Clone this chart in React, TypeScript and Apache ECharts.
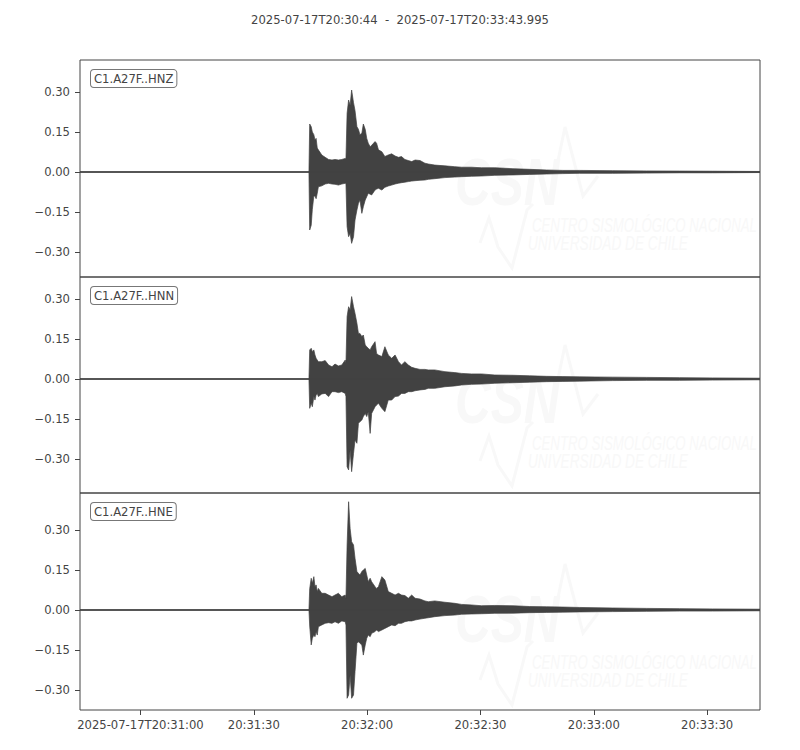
import React, { useEffect, useRef } from "react";
import * as echarts from "echarts";

// time in seconds after 2025-07-17T20:30:00
const T_START = 44;
const T_END = 223.995;
const TITLE = "2025-07-17T20:30:44  -  2025-07-17T20:33:43.995";
const CHANNELS = ["C1.A27F..HNZ", "C1.A27F..HNN", "C1.A27F..HNE"];
const X_TICKS = [60, 90, 120, 150, 180, 210];
const Y_TICKS = [-0.3, -0.15, 0, 0.15, 0.3];
const Y_RANGES = [
  [-0.3937, 0.42],
  [-0.4275, 0.3825],
  [-0.375, 0.4387],
];

const TIMES = [
  44, 104.6, 104.8, 105.2, 105.5, 105.9, 106.2, 106.5, 106.8, 107.1, 108.0, 108.9, 109.8, 110.7, 111.5,
  112.4, 113.3, 114.2, 114.4, 114.7, 115.1, 115.5, 115.9, 116.4, 116.8, 117.3, 117.7, 118.1, 118.6, 119.0,
  119.5, 119.9, 120.3, 120.8, 121.2, 122.1, 122.5, 123.0, 123.9, 124.7, 125.6, 126.5, 127.4, 128.3, 129.1,
  130.0, 130.9, 131.8, 132.7, 134.0, 135.3, 136.2, 137.9, 140.6, 143.2, 145.0, 147.6, 150.3, 153.8, 158.6,
  163.0, 167.5, 171.8, 176.3, 185.0, 194.0, 202.7, 211.4, 223.995,
];

const HNZ_UPPER = [
  0, 0, 0.18, 0.17, 0.15, 0.14, 0.12, 0.126, 0.09, 0.083, 0.064, 0.055, 0.047, 0.045, 0.047,
  0.045, 0.047, 0.051, 0.05, 0.22, 0.27, 0.25, 0.3075, 0.26, 0.23, 0.17, 0.16, 0.14, 0.145, 0.18,
  0.16, 0.126, 0.108, 0.095, 0.1, 0.114, 0.108, 0.083, 0.076, 0.058, 0.064, 0.068, 0.06, 0.055, 0.058,
  0.047, 0.043, 0.039, 0.045, 0.043, 0.033, 0.03, 0.026, 0.023, 0.02, 0.018, 0.018, 0.016, 0.016, 0.0125,
  0.01, 0.0075, 0.006, 0.006, 0.005, 0.004, 0.0035, 0.003, 0.002,
];
const HNZ_LOWER = [
  0, 0, -0.2175, -0.2, -0.14, -0.09, -0.09, -0.1, -0.08, -0.055, -0.052, -0.045, -0.0425, -0.045, -0.046,
  -0.049, -0.045, -0.0425, -0.045, -0.205, -0.2425, -0.23, -0.2675, -0.2425, -0.18, -0.1425, -0.1175, -0.105, -0.155, -0.13,
  -0.105, -0.0925, -0.08, -0.083, -0.086, -0.0675, -0.064, -0.061, -0.0675, -0.0575, -0.0525, -0.049, -0.045, -0.042, -0.04,
  -0.038, -0.036, -0.034, -0.0325, -0.031, -0.03, -0.0275, -0.025, -0.021, -0.019, -0.0175, -0.016, -0.015, -0.0125, -0.011,
  -0.009, -0.0075, -0.006, -0.005, -0.005, -0.004, -0.003, -0.003, -0.002,
];
const HNN_UPPER = [
  0, 0, 0.109, 0.115, 0.1025, 0.109, 0.09, 0.0775, 0.071, 0.065, 0.065, 0.069, 0.0525, 0.046, 0.056,
  0.049, 0.0525, 0.071, 0.06, 0.234, 0.271, 0.259, 0.309, 0.271, 0.246, 0.209, 0.171, 0.171, 0.159, 0.165,
  0.1275, 0.121, 0.115, 0.109, 0.121, 0.14, 0.096, 0.09, 0.084, 0.121, 0.09, 0.0775, 0.09, 0.065, 0.0525,
  0.065, 0.0525, 0.044, 0.04, 0.036, 0.036, 0.034, 0.034, 0.0275, 0.024, 0.021, 0.019, 0.019, 0.015, 0.014,
  0.012, 0.01, 0.009, 0.008, 0.007, 0.006, 0.005, 0.004, 0.003,
];
const HNN_LOWER = [
  0, 0, -0.11, -0.091, -0.104, -0.066, -0.079, -0.06, -0.054, -0.066, -0.056, -0.054, -0.066, -0.0475, -0.0475,
  -0.051, -0.0475, -0.054, -0.066, -0.329, -0.341, -0.266, -0.3475, -0.279, -0.229, -0.241, -0.166, -0.16, -0.154, -0.141,
  -0.129, -0.141, -0.1225, -0.204, -0.129, -0.104, -0.0975, -0.091, -0.11, -0.1225, -0.079, -0.079, -0.066, -0.064, -0.054,
  -0.054, -0.0475, -0.0475, -0.044, -0.041, -0.039, -0.035, -0.035, -0.029, -0.026, -0.0225, -0.02, -0.019, -0.016, -0.014,
  -0.012, -0.01, -0.009, -0.008, -0.006, -0.005, -0.005, -0.004, -0.003,
];
const HNE_UPPER = [
  0, 0, 0.08, 0.119, 0.1, 0.125, 0.0875, 0.094, 0.069, 0.081, 0.0625, 0.0625, 0.056, 0.05, 0.056,
  0.0625, 0.05, 0.056, 0.044, 0.244, 0.406, 0.306, 0.256, 0.244, 0.194, 0.144, 0.1375, 0.131, 0.144, 0.15,
  0.156, 0.131, 0.106, 0.119, 0.106, 0.0875, 0.081, 0.0875, 0.125, 0.1125, 0.069, 0.0625, 0.056, 0.0625, 0.056,
  0.054, 0.044, 0.056, 0.044, 0.041, 0.034, 0.031, 0.034, 0.029, 0.025, 0.021, 0.019, 0.016, 0.017, 0.016,
  0.013, 0.012, 0.011, 0.0095, 0.0075, 0.006, 0.005, 0.004, 0.003,
];
const HNE_LOWER = [
  0, 0, -0.06, -0.131, -0.106, -0.094, -0.1, -0.081, -0.094, -0.0625, -0.056, -0.05, -0.0475, -0.05, -0.044,
  -0.05, -0.041, -0.044, -0.056, -0.331, -0.319, -0.244, -0.331, -0.319, -0.231, -0.125, -0.119, -0.125, -0.131, -0.169,
  -0.131, -0.106, -0.094, -0.1, -0.0875, -0.081, -0.075, -0.081, -0.075, -0.069, -0.0625, -0.056, -0.059, -0.05, -0.05,
  -0.044, -0.041, -0.041, -0.0375, -0.034, -0.031, -0.029, -0.025, -0.021, -0.019, -0.016, -0.015, -0.014, -0.0125, -0.012,
  -0.01, -0.009, -0.008, -0.0072, -0.006, -0.005, -0.004, -0.004, -0.003,
];

const UPPERS = [HNZ_UPPER, HNN_UPPER, HNE_UPPER];
const LOWERS = [HNZ_LOWER, HNN_LOWER, HNE_LOWER];

const INK = "#444444";
const WAVE = "#424242";
const WM = "#f8f8f8";
const FONT = '"DejaVu Sans", sans-serif';
const FS = 11.6;

const pad2 = (n: number) => (n < 10 ? "0" + n : "" + n);
const fmtTime = (v: number) => {
  const s = Math.round(v);
  const str = `20:${pad2(30 + Math.floor(s / 60))}:${pad2(s % 60)}`;
  return v === X_TICKS[0] ? "2025-07-17T" + str : str;
};
const fmtY = (v: number) => (v < -1e-9 ? "\u2212" : "") + Math.abs(v).toFixed(2);

export default function App() {
  const ref = useRef<HTMLDivElement>(null);
  useEffect(() => {
    if (!ref.current) return;
    const chart = echarts.init(ref.current, null, { renderer: "svg" });
    const panelTops = [60, 277, 493];
    const panelHeights = [217, 216, 217];
    const wmOffsets = [0, 218, 437];

    const grids = panelTops.map((top, i) => ({
      left: 80,
      top,
      width: 680,
      height: panelHeights[i],
      show: true,
      borderColor: INK,
      borderWidth: 1,
      backgroundColor: "transparent",
      containLabel: false,
    }));

    const xAxes = [0, 1, 2].map((i) => ({
      type: "value",
      gridIndex: i,
      position: "bottom",
      min: T_START,
      max: T_END,
      axisLine: { show: false, onZero: false },
      splitLine: { show: false },
      axisTick: {
        show: i === 2,
        length: 5,
        lineStyle: { color: INK },
        customValues: X_TICKS,
      },
      axisLabel: {
        show: i === 2,
        customValues: X_TICKS,
        formatter: fmtTime,
        color: INK,
        fontSize: FS,
        fontFamily: FONT,
        margin: 9,
      },
    }));

    const yAxes = [0, 1, 2].map((i) => ({
      type: "value",
      gridIndex: i,
      position: "left",
      min: Y_RANGES[i][0],
      max: Y_RANGES[i][1],
      axisLine: { show: false, onZero: false },
      splitLine: { show: false },
      axisTick: {
        show: true,
        length: 5,
        lineStyle: { color: INK },
        customValues: Y_TICKS,
      },
      axisLabel: {
        customValues: Y_TICKS,
        formatter: fmtY,
        color: INK,
        fontSize: FS,
        fontFamily: FONT,
        margin: 10,
      },
    }));

    const series: any[] = [];
    [0, 1, 2].forEach((i) => {
      [UPPERS[i], LOWERS[i]].forEach((vals) => {
        series.push({
          type: "line",
          xAxisIndex: i,
          yAxisIndex: i,
          data: TIMES.map((t, k) => [t, vals[k]]),
          symbol: "none",
          silent: true,
          z: 3,
          lineStyle: { color: WAVE, width: 0.7 },
          areaStyle: { color: WAVE, opacity: 1, origin: "auto" },
        });
      });
      series.push({
        type: "line",
        xAxisIndex: i,
        yAxisIndex: i,
        data: [
          [T_START, 0],
          [T_END, 0],
        ],
        symbol: "none",
        silent: true,
        z: 4,
        lineStyle: { color: WAVE, width: 1.3 },
      });
    });

    const graphics: any[] = [];
    wmOffsets.forEach((oy) => {
      graphics.push(
        {
          type: "polyline",
          z: 0,
          silent: true,
          shape: { points: [[480, 243 + oy], [489, 218 + oy], [498, 247 + oy], [512, 268 + oy], [527, 210 + oy], [533, 204 + oy]] },
          style: { stroke: WM, lineWidth: 3, fill: null },
        },
        {
          type: "polyline",
          z: 0,
          silent: true,
          shape: { points: [[553, 185 + oy], [565, 127 + oy], [583, 196 + oy], [598, 176 + oy]] },
          style: { stroke: WM, lineWidth: 3, fill: null },
        },
        {
          type: "text",
          z: 0,
          silent: true,
          x: 455,
          y: 182 + oy,
          scaleX: 0.75,
          style: {
            text: "CSN",
            font: 'italic bold 66px "Liberation Sans"',
            fill: WM,
            verticalAlign: "middle",
          },
        },
        {
          type: "text",
          z: 0,
          silent: true,
          x: 532,
          y: 225 + oy,
          scaleX: 0.63,
          style: {
            text: "CENTRO SISMOLÓGICO NACIONAL",
            font: 'italic 21px "Liberation Sans"',
            fill: WM,
            verticalAlign: "middle",
          },
        },
        {
          type: "text",
          z: 0,
          silent: true,
          x: 528,
          y: 243 + oy,
          scaleX: 0.65,
          style: {
            text: "UNIVERSIDAD DE CHILE",
            font: 'italic 21px "Liberation Sans"',
            fill: WM,
            verticalAlign: "middle",
          },
        }
      );
    });
    panelTops.forEach((top, i) => {
      graphics.push({
        type: "text",
        z: 10,
        silent: true,
        x: 91,
        y: top + 10,
        style: {
          text: CHANNELS[i],
          font: `${FS}px ${FONT}`,
          fill: INK,
          backgroundColor: "#ffffff",
          borderColor: "#777777",
          borderWidth: 1,
          borderRadius: 3,
          padding: [3, 3, 2, 3],
        },
      });
    });
    graphics.push({
      type: "text",
      z: 10,
      silent: true,
      x: 400,
      y: 20,
      style: {
        text: TITLE,
        font: `${FS}px ${FONT}`,
        fill: INK,
        align: "center",
        verticalAlign: "middle",
      },
    });

    chart.setOption({
      animation: false,
      backgroundColor: "#ffffff",
      grid: grids,
      xAxis: xAxes,
      yAxis: yAxes,
      series,
      graphic: graphics,
    });
    return () => chart.dispose();
  }, []);
  return (
    <div
      ref={ref}
      style={{ position: "fixed", left: 0, top: 0, width: 800, height: 750, background: "#fff" }}
    />
  );
}
